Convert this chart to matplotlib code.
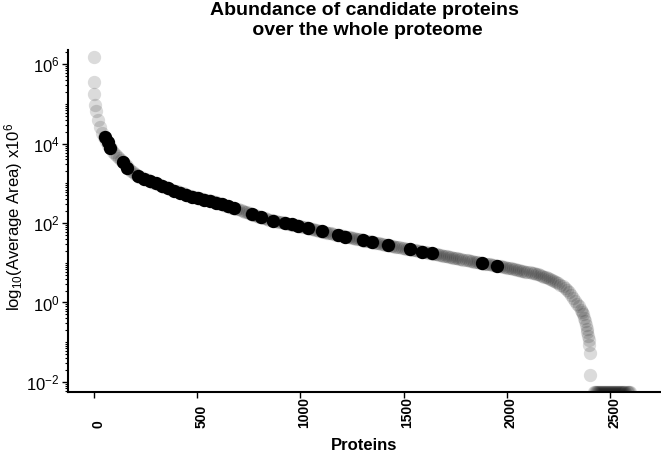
import numpy as np
import matplotlib
matplotlib.use('Agg')
import matplotlib.pyplot as plt
import matplotlib.transforms as mtransforms
from matplotlib.ticker import LogLocator, NullFormatter

plt.rcParams['font.family'] = ['Liberation Sans', 'DejaVu Sans']
plt.rcParams['mathtext.fontset'] = 'custom'
plt.rcParams['mathtext.rm'] = 'Liberation Sans'
plt.rcParams['mathtext.it'] = 'Liberation Sans:italic'
plt.rcParams['mathtext.bf'] = 'Liberation Sans:bold'

# ---------------- data ----------------
title = "Abundance of candidate proteins\n over the whole proteome"
x_label = "Proteins"
y_label = r"log$_{10}$(Average Area) x10$^{6}$"

# whole proteome (rank -> log10 abundance)
head_rank = [0, 1, 2, 5]
head_log = [6.19, 5.55, 5.24, 4.97]

body_rank = list(range(10, 2361, 10))
body_log = [
    4.82, 4.60, 4.42, 4.27, 4.18, 4.08, 3.97, 3.88, 3.80, 3.73,   # 10-100
    3.68, 3.63, 3.59, 3.54, 3.49, 3.43, 3.37, 3.32, 3.28, 3.23,   # 110-200
    3.20, 3.17, 3.15, 3.12, 3.10, 3.08, 3.06, 3.04, 3.02, 3.00,   # 210-300
    2.98, 2.96, 2.94, 2.92, 2.90, 2.88, 2.86, 2.84, 2.82, 2.80,   # 310-400
    2.78, 2.76, 2.75, 2.73, 2.71, 2.69, 2.67, 2.66, 2.65, 2.63,   # 410-500
    2.62, 2.61, 2.60, 2.58, 2.57, 2.56, 2.55, 2.53, 2.52, 2.50,   # 510-600
    2.48, 2.47, 2.45, 2.44, 2.42, 2.41, 2.39, 2.38, 2.36, 2.35,   # 610-700
    2.33, 2.31, 2.29, 2.27, 2.25, 2.23, 2.21, 2.20, 2.18, 2.16,   # 710-800
    2.15, 2.13, 2.12, 2.10, 2.09, 2.08, 2.06, 2.05, 2.04, 2.03,   # 810-900
    2.02, 2.00, 1.99, 1.98, 1.97, 1.96, 1.95, 1.94, 1.93, 1.92,   # 910-1000
    1.90, 1.89, 1.88, 1.87, 1.86, 1.85, 1.83, 1.82, 1.81, 1.79,   # 1010-1100
    1.78, 1.77, 1.76, 1.75, 1.74, 1.72, 1.71, 1.70, 1.69, 1.68,   # 1110-1200
    1.67, 1.66, 1.65, 1.64, 1.63, 1.62, 1.61, 1.60, 1.59, 1.57,   # 1210-1300
    1.56, 1.55, 1.54, 1.53, 1.52, 1.51, 1.50, 1.49, 1.48, 1.47,   # 1310-1400
    1.46, 1.45, 1.44, 1.43, 1.42, 1.41, 1.40, 1.39, 1.38, 1.37,   # 1410-1500
    1.36, 1.35, 1.34, 1.33, 1.32, 1.31, 1.30, 1.29, 1.28, 1.27,   # 1510-1600
    1.26, 1.25, 1.24, 1.23, 1.22, 1.21, 1.20, 1.19, 1.18, 1.17,   # 1610-1700
    1.16, 1.15, 1.14, 1.13, 1.12, 1.11, 1.10, 1.09, 1.08, 1.07,   # 1710-1800
    1.06, 1.05, 1.04, 1.03, 1.02, 1.01, 1.00, 0.99, 0.98, 0.97,   # 1810-1900
    0.96, 0.96, 0.95, 0.94, 0.93, 0.92, 0.91, 0.90, 0.89, 0.88,   # 1910-2000
    0.87, 0.86, 0.85, 0.84, 0.83, 0.82, 0.80, 0.79, 0.78, 0.77,   # 2010-2100
    0.76, 0.75, 0.74, 0.72, 0.71, 0.69, 0.67, 0.65, 0.63, 0.61,   # 2110-2200
    0.59, 0.56, 0.54, 0.51, 0.48, 0.45, 0.41, 0.36, 0.31, 0.26,   # 2210-2300
    0.20, 0.12, 0.05, -0.03, -0.10, -0.18,                        # 2310-2360
]

tail_rank = [2364, 2368, 2373, 2378, 2383, 2387, 2390, 2393, 2396, 2399, 2402, 2405]
tail_log = [-0.23, -0.29, -0.38, -0.46, -0.57, -0.67, -0.74, -0.85, -0.95, -1.07, -1.28, -1.82]

# proteins at the detection floor (drawn on the bottom edge)
floor_rank = list(range(2420, 2600, 5))
floor_log = -2.25

# candidate proteins (black)
cand_rank = [55, 66, 78, 141, 160, 213, 242, 271, 300, 329, 359, 388, 417, 446,
             475, 504, 533, 562, 591, 620, 649, 678, 765, 809, 869, 925, 958,
             990, 1038, 1103, 1184, 1216, 1305, 1345, 1426, 1531, 1588, 1636,
             1878, 1954]
cand_log = [4.17, 4.04, 3.89, 3.54, 3.39, 3.19, 3.12, 3.06, 3.00, 2.94, 2.88,
            2.82, 2.77, 2.72, 2.66, 2.63, 2.59, 2.56, 2.51, 2.47, 2.43, 2.38,
            2.24, 2.15, 2.05, 2.00, 1.97, 1.93, 1.87, 1.79, 1.70, 1.66, 1.57,
            1.53, 1.45, 1.34, 1.28, 1.24, 0.99, 0.93]

xticks = [0, 500, 1000, 1500, 2000, 2500]
xtick_labels = ['0', '500', '1000', '1500', '2000', '2500']
yticks = [1e-2, 1e0, 1e2, 1e4, 1e6]
ytick_labels = [r'$10^{-2}$', r'$10^{0}$', r'$10^{2}$', r'$10^{4}$', r'$10^{6}$']

# ---------------- plot ----------------
assert len(body_rank) == len(body_log)
grey_rank = head_rank + body_rank + tail_rank + floor_rank
grey_val = 10.0 ** np.array(head_log + body_log + tail_log + [floor_log] * len(floor_rank))
cand_val = 10.0 ** np.array(cand_log)

W, H = 661, 457
fig = plt.figure(figsize=(W / 100, H / 100), dpi=100)
ax_left, ax_right, ax_top, ax_bottom = 68, 661, 50, 391.7
ax = fig.add_axes([ax_left / W, 1 - ax_bottom / H, (ax_right - ax_left) / W, (ax_bottom - ax_top) / H])

ax.scatter(grey_rank, grey_val, s=92, c='black', alpha=0.14, linewidths=0, zorder=1)
ax.scatter(cand_rank, cand_val, s=92, c='black', linewidths=0, zorder=2)

ax.set_yscale('log')
ax.set_xlim(-126, 2747)
ax.set_ylim(10 ** -2.247, 10 ** 6.36)

for s in ['top', 'right']:
    ax.spines[s].set_visible(False)
for s in ['left', 'bottom']:
    ax.spines[s].set_linewidth(1.5)

ax.set_yticks(yticks, ytick_labels, fontsize=12)
ax.yaxis.set_minor_locator(LogLocator(base=10, subs=np.arange(1, 10), numticks=50))
ax.yaxis.set_minor_formatter(NullFormatter())
ax.tick_params(axis='y', which='major', length=4, width=1, pad=2)
ax.tick_params(axis='y', which='minor', length=2, width=0.8)

ax.set_xticks(xticks, xtick_labels, fontsize=10, fontweight='bold', rotation=90)
ax.tick_params(axis='x', which='major', length=4, width=1, pad=22)
offset = mtransforms.ScaledTranslation(4 / 100, 0, fig.dpi_scale_trans)
for lbl in ax.get_xticklabels():
    lbl.set_verticalalignment('bottom')
    lbl.set_transform(lbl.get_transform() + offset)

ax.set_ylabel(y_label, fontsize=12)
ax.yaxis.set_label_coords(-0.0725, 0.51)
ax.set_xlabel(x_label, fontsize=12, fontweight='bold')
ax.xaxis.set_label_coords(0.5, -(438 - ax_bottom) / (ax_bottom - ax_top))

fig.text((ax_left + ax_right) / 2 / W, 1 - 2 / H, title, ha='center', va='top',
         fontsize=14, fontweight='bold')

fig.savefig('out.png', dpi=100)
